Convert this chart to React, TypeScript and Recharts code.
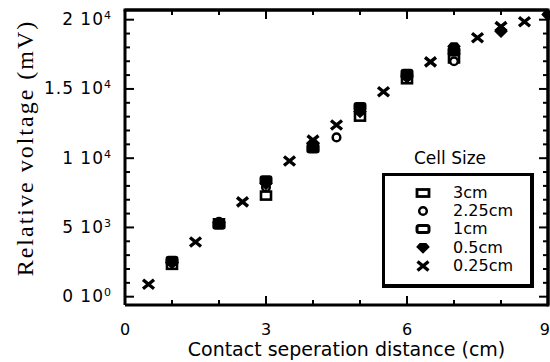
import React from 'react';
import { ScatterChart, Scatter, XAxis, YAxis, CartesianGrid } from 'recharts';

// ---- data ----
const SERIES_NAMES = ['3cm', '2.25cm', '1cm', '0.5cm', '0.25cm'];

const X_3CM = [1, 2, 3, 4, 5, 6, 7];
const Y_3CM = [2300, 5300, 7300, 10800, 13000, 15700, 17200];

const X_225CM = [1, 2, 3, 4, 4.5, 5, 6, 7];
const Y_225CM = [2500, 5400, 7900, 10900, 11500, 13400, 15900, 17000];

const X_1CM = [1, 2, 3, 4, 5, 6, 7];
const Y_1CM = [2600, 5200, 8400, 10700, 13700, 16100, 17700];

const X_05CM = [1, 2, 3, 4, 5, 6, 7, 8, 9];
const Y_05CM = [2400, 5300, 8100, 11000, 13300, 15800, 18000, 19100, 20300];

const X_025CM = [0.5, 1.5, 2.5, 3.5, 4, 4.5, 5.5, 6.5, 7.5, 8, 8.5];
const Y_025CM = [900, 3950, 6850, 9800, 11300, 12400, 14800, 16950, 18700, 19500, 19850];

const X_TICKS = [0, 1, 2, 3, 4, 5, 6, 7, 8, 9];
const X_LABELED = [0, 3, 6, 9];
const Y_TICKS = [0, 1000, 2000, 3000, 4000, 5000, 6000, 7000, 8000, 9000, 10000, 11000, 12000, 13000, 14000, 15000, 16000, 17000, 18000, 19000, 20000];
const Y_LABEL_VALUES = [0, 5000, 10000, 15000, 20000];
const Y_LABEL_BASES = ['0 10', '5 10', '1 10', '1.5 10', '2 10'];
const Y_LABEL_EXPS = ['0', '3', '4', '4', '4'];

const X_TITLE = 'Contact seperation distance (cm)';
const Y_TITLE = 'Relative voltage (mV)';
const LEGEND_TITLE = 'Cell Size';

const X_DOMAIN = [0, 9];
const Y_DOMAIN = [-600, 20700];

const toPoints = (xs: number[], ys: number[]) => xs.map((x, i) => ({ x, y: ys[i] }));

// ---- layout ----
const CHART_W = 550;
const CHART_H = 362;
const MARGIN = { top: 10, right: 2, bottom: 0, left: 0 };
const Y_AXIS_W = 125;
const X_AXIS_H = 57;
const PLOT_TOP = MARGIN.top;
const PLOT_LEFT = MARGIN.left + Y_AXIS_W;
const PLOT_RIGHT = CHART_W - MARGIN.right;
const PLOT_BOTTOM = CHART_H - MARGIN.bottom - X_AXIS_H;

const SANS = '"DejaVu Sans", sans-serif';
const SERIF = '"Liberation Serif", "Times New Roman", serif';
const AXIS_LINE = { stroke: '#000', strokeWidth: 3 };

// ---- marker shapes ----
const SquareMark = (p: any) => {
  if (p.cx == null || p.cy == null) return <g />;
  return <rect x={p.cx - 5} y={p.cy - 4} width={10} height={8} fill="#fff" stroke="#000" strokeWidth={2.6} />;
};
const CircleMark = (p: any) => {
  if (p.cx == null || p.cy == null) return <g />;
  return <circle cx={p.cx} cy={p.cy} r={3.8} fill="#fff" stroke="#000" strokeWidth={2.5} />;
};
const RoundRectMark = (p: any) => {
  if (p.cx == null || p.cy == null) return <g />;
  return <rect x={p.cx - 5.5} y={p.cy - 4} width={11} height={8} rx={2} fill="#000" stroke="#000" strokeWidth={2} />;
};
const DiamondMark = (p: any) => {
  if (p.cx == null || p.cy == null) return <g />;
  const { cx, cy } = p;
  return (
    <path
      d={`M${cx - 6},${cy - 1} L${cx - 3},${cy - 4.5} L${cx + 3},${cy - 4.5} L${cx + 6},${cy - 1} L${cx},${cy + 5} Z`}
      fill="#000"
      stroke="#000"
      strokeWidth={1.2}
    />
  );
};
const CrossMark = (p: any) => {
  if (p.cx == null || p.cy == null) return <g />;
  const { cx, cy } = p;
  return (
    <path
      d={`M${cx - 5.5},${cy - 4.5} L${cx + 5.5},${cy + 4.5} M${cx + 5.5},${cy - 4.5} L${cx - 5.5},${cy + 4.5}`}
      stroke="#000"
      strokeWidth={3.4}
      fill="none"
    />
  );
};

const SHAPES = [SquareMark, CircleMark, RoundRectMark, DiamondMark, CrossMark];

const LegendSymbol = ({ index }: { index: number }) => {
  const S = SHAPES[index];
  return (
    <svg width={16} height={14} style={{ display: 'block' }}>
      {index === 0 ? (
        <rect x={2} y={3.5} width={12} height={7} fill="#fff" stroke="#000" strokeWidth={2.8} />
      ) : index === 2 ? (
        <rect x={2} y={3.5} width={12} height={7} rx={2} fill="#fff" stroke="#000" strokeWidth={3} />
      ) : (
        <S cx={8} cy={7} />
      )}
    </svg>
  );
};

// ---- ticks (bottom axis also draws the mirrored inward tick on the top edge) ----
const BottomTick = (p: any) => {
  const v = p.payload?.value;
  const major = X_LABELED.includes(v);
  const len = major ? 9 : 5;
  const last = v === X_LABELED[X_LABELED.length - 1];
  return (
    <g>
      <line x1={p.x} x2={p.x} y1={p.y} y2={p.y - len} stroke="#000" strokeWidth={2} />
      <line x1={p.x} x2={p.x} y1={PLOT_TOP} y2={PLOT_TOP + len} stroke="#000" strokeWidth={2} />
      {major && (
        <text
          x={last ? CHART_W : p.x}
          y={p.y + 30}
          textAnchor={last ? 'end' : 'middle'}
          fontFamily={SANS}
          fontSize={16}
          fill="#000"
        >
          {v}
        </text>
      )}
    </g>
  );
};
// left axis also draws the mirrored inward tick on the right edge
const LeftTick = (p: any) => {
  const v = p.payload?.value;
  const idx = Y_LABEL_VALUES.indexOf(v);
  const major = idx >= 0;
  const len = major ? 9 : 5;
  return (
    <g>
      <line x1={p.x} x2={p.x + len} y1={p.y} y2={p.y} stroke="#000" strokeWidth={2} />
      <line x1={PLOT_RIGHT} x2={PLOT_RIGHT - len} y1={p.y} y2={p.y} stroke="#000" strokeWidth={2} />
      {major && (
        <text x={p.x - 14} y={p.y + 5.5} textAnchor="end" fontFamily={SANS} fontSize={17} letterSpacing={1} fill="#000">
          <tspan>{Y_LABEL_BASES[idx]}</tspan>
          <tspan dy={-6} fontSize={11} letterSpacing={0}>
            {Y_LABEL_EXPS[idx]}
          </tspan>
        </text>
      )}
    </g>
  );
};

// ---- titles ----
const XTitle = (p: any) => {
  const vb = p.viewBox || { x: 125, y: 305, width: 423, height: 57 };
  return (
    <text x={vb.x + vb.width / 2 + 10} y={356} textAnchor="middle" fontFamily={SANS} fontSize={19} fill="#000">
      {X_TITLE}
    </text>
  );
};
const YTitle = () => (
  <text
    x={33}
    y={148}
    transform="rotate(-90, 33, 148)"
    textAnchor="middle"
    fontFamily={SERIF}
    fontSize={24}
    letterSpacing={2}
    fill="#000"
  >
    {Y_TITLE}
  </text>
);

// ---- plot frame overlay (top and right edges of the box) ----
const FrameOverlay = () => (
  <svg
    width={CHART_W}
    height={CHART_H}
    style={{ position: 'absolute', left: 0, top: 0, pointerEvents: 'none', zIndex: 10, display: 'block' }}
  >
    <polyline
      points={`${PLOT_LEFT},${PLOT_TOP} ${PLOT_RIGHT},${PLOT_TOP} ${PLOT_RIGHT},${PLOT_BOTTOM}`}
      fill="none"
      stroke="#000"
      strokeWidth={3}
      strokeLinecap="square"
    />
  </svg>
);

// ---- legend (overlay) ----
const LegendBox = () => (
  <div
    style={{
      position: 'absolute',
      left: 382,
      top: 148,
      width: 153,
      height: 142,
      fontFamily: SANS,
      color: '#000',
      pointerEvents: 'none',
      zIndex: 11,
    }}
  >
    <div
      style={{
        position: 'absolute',
        left: 0,
        width: 136,
        top: 2,
        textAlign: 'center',
        fontSize: 17,
        lineHeight: '17px',
        whiteSpace: 'nowrap',
      }}
    >
      {LEGEND_TITLE}
    </div>
    <div
      style={{
        position: 'absolute',
        left: 0,
        top: 25,
        width: 152,
        height: 115,
        boxSizing: 'border-box',
        borderStyle: 'solid',
        borderColor: '#000',
        borderWidth: '3px 4px 4px 3px',
        background: '#fff',
      }}
    />
    {SERIES_NAMES.map((name, i) => (
      <div
        key={name}
        style={{
          position: 'absolute',
          left: 33,
          top: 35.5 + 18.4 * i,
          height: 18,
          display: 'flex',
          alignItems: 'center',
          fontSize: 16,
          lineHeight: '18px',
          whiteSpace: 'nowrap',
        }}
      >
        <LegendSymbol index={i} />
        <span style={{ marginLeft: 22 }}>{name}</span>
      </div>
    ))}
  </div>
);

const SERIES_DATA = [
  toPoints(X_3CM, Y_3CM),
  toPoints(X_225CM, Y_225CM),
  toPoints(X_1CM, Y_1CM),
  toPoints(X_05CM, Y_05CM),
  toPoints(X_025CM, Y_025CM),
];

export default function App() {
  return (
    <div style={{ position: 'absolute', left: 0, top: 0, width: CHART_W, height: CHART_H, background: '#fff' }}>
      <ScatterChart width={CHART_W} height={CHART_H} margin={MARGIN}>
        <CartesianGrid
          xAxisId="b"
          yAxisId="l"
          stroke="#000"
          strokeWidth={3}
          horizontalCoordinatesGenerator={(g: any) => [g.offset.top]}
          verticalCoordinatesGenerator={(g: any) => [g.offset.left + g.offset.width]}
        />
        <XAxis
          xAxisId="b"
          dataKey="x"
          type="number"
          domain={X_DOMAIN}
          ticks={X_TICKS}
          interval={0}
          orientation="bottom"
          height={X_AXIS_H}
          tickSize={0}
          tickMargin={0}
          tickLine={false}
          axisLine={AXIS_LINE}
          tick={BottomTick}
          label={XTitle}
        />
        <YAxis
          yAxisId="l"
          dataKey="y"
          type="number"
          domain={Y_DOMAIN}
          ticks={Y_TICKS}
          interval={0}
          orientation="left"
          width={Y_AXIS_W}
          tickSize={0}
          tickMargin={0}
          tickLine={false}
          axisLine={AXIS_LINE}
          tick={LeftTick}
          label={YTitle}
        />
        {SERIES_NAMES.map((name, i) => (
          <Scatter
            key={name}
            name={name}
            xAxisId="b"
            yAxisId="l"
            data={SERIES_DATA[i]}
            fill="#000"
            shape={SHAPES[i]}
            isAnimationActive={false}
          />
        ))}
      </ScatterChart>
      <FrameOverlay />
      <LegendBox />
    </div>
  );
}
